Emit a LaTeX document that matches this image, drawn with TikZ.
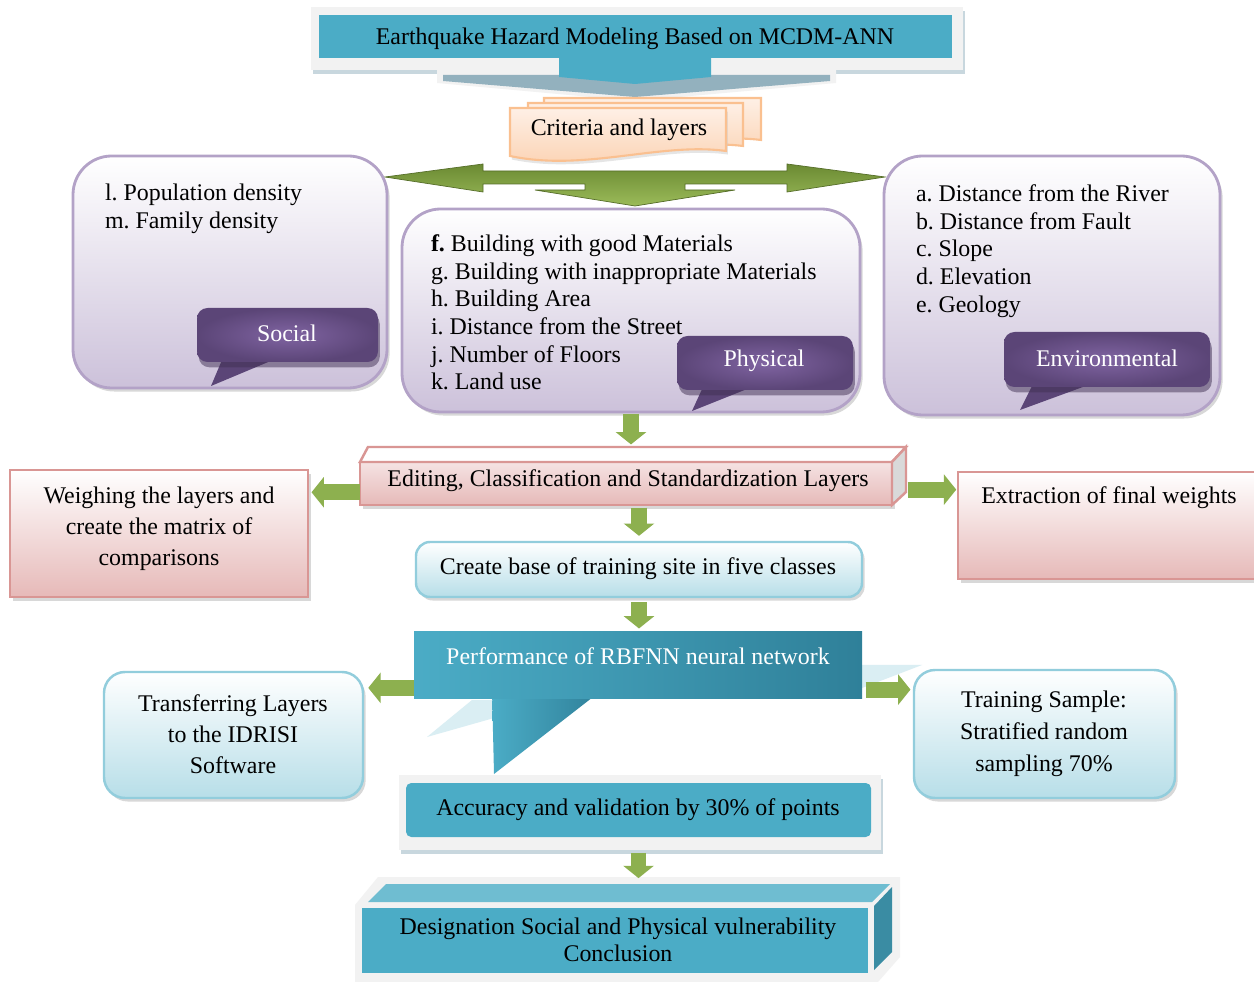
\documentclass[tikz,border=0pt]{standalone}
\usepackage{fontspec}
\setmainfont{Liberation Serif}
\usetikzlibrary{arrows.meta,fit,shadows,calc}
\definecolor{tealA}{HTML}{4BACC6}
\definecolor{tealD}{HTML}{2F8099}
\definecolor{tealM}{HTML}{3E97AE}
\definecolor{tealL}{HTML}{DAEEF3}
\definecolor{tealTop}{HTML}{6FBDD1}
\definecolor{tealSide}{HTML}{3A8CA3}
\definecolor{grayBlue}{HTML}{93B1BE}
\definecolor{frameL}{HTML}{F2F2F2}
\definecolor{blueB}{HTML}{92CDDC}
\definecolor{blueF}{HTML}{B7DEE8}
\definecolor{pinkB}{HTML}{D99694}
\definecolor{pinkF}{HTML}{E6B9B8}
\definecolor{purB}{HTML}{B3A2C7}
\definecolor{purF}{HTML}{CCC1DA}
\definecolor{purD}{HTML}{5B4577}
\definecolor{purM}{HTML}{8064A2}
\definecolor{orB}{HTML}{FAC090}
\definecolor{orT}{HTML}{FEF0E6}
\definecolor{orF}{HTML}{FBD0AE}
\definecolor{gD}{HTML}{6B8A33}
\definecolor{gM}{HTML}{8DB04F}
\definecolor{gL}{HTML}{9BBB59}
\frenchspacing
\begin{document}
\begin{tikzpicture}[x=0.02cm,y=-0.02cm,
  font=\fontsize{13.6}{15.7}\selectfont,
  box/.style={inner sep=0pt, outer sep=0pt},
  shad/.style={drop shadow={shadow xshift=1.5pt,shadow yshift=-2pt,fill=black!30}},
  purplebox/.style={box, draw=purB, line width=1.6pt, rounded corners=22pt,
     top color=white, bottom color=purF, shad},
  callout/.style={box, rounded corners=6pt, shading=radial, inner color=purM, outer color=purD,
     text=white, drop shadow={shadow xshift=1pt,shadow yshift=-3pt,fill=purD!70!black}},
  pinkbox/.style={box, draw=pinkB, line width=1.4pt, top color=white, bottom color=pinkF, shad},
  bluebox/.style={box, draw=blueB, line width=1.4pt, rounded corners=8pt, top color=white, bottom color=blueF, shad},
  docstyle/.style={draw=orB, line width=1.2pt, top color=orT, bottom color=orF},
  garrow/.style={draw=gM, line width=9pt, -{Triangle[length=7pt,width=17pt,fill=gM]}},
  listtext/.style={box, anchor=north west, align=left},
]
\useasboundingbox (0,0) rectangle (1254,982);
\fill[white] (0,0) rectangle (1254,982);

% ---------- Title banner ----------
\fill[frameL, drop shadow={shadow xshift=1pt,shadow yshift=-2.5pt,fill=grayBlue}] (311,7) rectangle (963,70);
\fill[frameL] (437,68) -- (836,68) -- (836,83) -- (635,101) -- (437,83) -- cycle;
\fill[grayBlue] (443,75) -- (830,75) -- (830,81) -- (635,97) -- (443,81) -- cycle;
\fill[tealA] (559,55) -- (711,55) -- (711,77) -- (635,84) -- (559,77) -- cycle;
\node[box, fit={(319,15) (952,58)}, fill=tealA] (title) {};
\node[box] (titletext) at (635,39) {Earthquake Hazard Modeling Based on MCDM-ANN};

% ---------- Criteria documents ----------
\path[docstyle] (544,98) -- (761,98) -- (761,140) .. controls (700,132) and (620,160) .. (544,146) -- cycle;
\path[docstyle] (528,103) -- (743,103) -- (743,146) .. controls (680,138) and (600,166) .. (528,152) -- cycle;
\path[docstyle, drop shadow={shadow xshift=1pt,shadow yshift=-2pt,fill=black!20}] (510,108) -- (726,108) -- (726,151) .. controls (660,142) and (585,172) .. (510,156) -- cycle;
\node[box, fit={(510,108) (726,150)}] (criteria) {};
\node[box] (criteriatext) at (619,130) {Criteria and layers};

% ---------- Green distribution arrow ----------
\shade[top color=gD, bottom color=gL, draw=gD!80!black, line width=0.4pt]
  (385,177) -- (483,164) -- (483,171) -- (787,171) -- (787,164) -- (885,177) -- (787,192)
  -- (787,184) -- (685,184) -- (685,190) -- (735,190) -- (635,206) -- (535,190) -- (585,190)
  -- (585,184) -- (483,184) -- (483,192) -- cycle;

% ---------- Social ----------
\node[purplebox, fit={(73,156) (387,388)}] (social) {};
\node[listtext] (socialtext) at (105,184) {l. Population density\\m. Family density};
\fill[purD] (222,360) -- (211,386) -- (273,360) -- cycle;
\node[callout, fit={(197,308) (378,362)}] (socialc) {};
\node[box, text=white] (socialct) at (287,333) {Social};

% ---------- Physical ----------
\node[purplebox, fit={(402,209) (860,412)}] (physical) {};
\node[listtext] (physicaltext) at (431,235) {\textbf{f.} Building with good Materials\\g. Building with inappropriate Materials\\h. Building Area\\i. Distance from the Street\\j. Number of Floors\\k. Land use};
\fill[purD] (703,387) -- (692,411) -- (752,387) -- cycle;
\node[callout, fit={(677,336) (853,390)}] (physicalc) {};
\node[box, text=white] (physicalct) at (764,361) {Physical};

% ---------- Environmental ----------
\node[purplebox, fit={(884,156) (1220,415)}] (environ) {};
\node[listtext] (environtext) at (916,185) {a. Distance from the River\\b. Distance from Fault\\c. Slope\\d. Elevation\\e. Geology};
\fill[purD] (1033,384) -- (1020,410) -- (1091,384) -- cycle;
\node[callout, fit={(1004,332) (1210,387)}] (environc) {};
\node[box, text=white] (environct) at (1107,358) {Environmental};

% ---------- Editing (3D box) ----------
\node[box, fit={(360,462) (892,505)}, draw=pinkB, line width=1.4pt, top color=pinkF!40, bottom color=pinkF, shad] (editing) {};
\filldraw[fill=white, draw=pinkB, line width=1.4pt] (editing.north west) -- (368,447) -- (906,447) -- (editing.north east) -- cycle;
\filldraw[fill=black!15, draw=pinkB, line width=1.4pt] (editing.north east) -- (906,447) -- (906,492) -- (editing.south east) -- cycle;
\node[box] (editingtext) at (628,481) {Editing, Classification and Standardization Layers};

% ---------- Weighing ----------
\node[pinkbox, fit={(10,470) (308,597)}] (weigh) {};
\node[box, align=center, font=\fontsize{13.6}{17.6}\selectfont] (weightext) at (159,529) {Weighing the layers and\\create the matrix of\\comparisons};

% ---------- Extraction ----------
\node[pinkbox, fit={(958,472) (1262,579)}] (extract) {};
\node[box] (extracttext) at (1109,498) {Extraction of final weights};

% ---------- Create base ----------
\node[bluebox, fit={(416,542) (862,597)}] (create) {};
\node[box] (createtext) at (638,569) {Create base of training site in five classes};

% ---------- Performance callout ----------
\fill[tealL] (862,665) -- (922,665) -- (862,688) -- cycle;
\fill[tealL] (427,737) -- (472,700) -- (494,700) -- (494,718) -- cycle;
\shade[left color=tealA, right color=tealD] (492,690) -- (494,774) -- (602,690) -- cycle;
\node[box, fit={(414,632) (862,698)}, left color=tealA, right color=tealD] (perf) {};
\node[box, text=white] (perftext) at (638,656) {Performance of RBFNN neural network};

% ---------- Transferring ----------
\node[bluebox, rounded corners=12pt, fit={(104,672) (363,798)}] (transfer) {};
\node[box, align=center, font=\fontsize{13.6}{17.6}\selectfont] (transfertext) at (233,734) {Transferring Layers\\to the IDRISI\\Software};

% ---------- Training ----------
\node[bluebox, rounded corners=12pt, fit={(914,670) (1175,798)}] (training) {};
\node[box, align=center, font=\fontsize{13.6}{18.2}\selectfont] (trainingtext) at (1044,734) {Training Sample:\\Stratified random\\sampling 70\%};

% ---------- Accuracy ----------
\fill[frameL, drop shadow={shadow xshift=1pt,shadow yshift=-2.5pt,fill=grayBlue}] (399,775) rectangle (881,850);
\node[box, fit={(406,783) (871,837)}, fill=tealA, rounded corners=3pt] (accuracy) {};
\node[box] (accuracytext) at (638,810) {Accuracy and validation by 30\% of points};

% ---------- Designation (3D box) ----------
\fill[frameL] (355,905) -- (378,877) -- (900,877) -- (900,957) -- (878,982) -- (355,982) -- cycle;
\node[box, fit={(362,908) (868,973)}, fill=tealA] (desig) {};
\fill[tealTop] (368,902) -- (386,884) -- (890,884) -- (872,902) -- cycle;
\fill[tealSide] (874,906) -- (892,887) -- (892,952) -- (874,970) -- cycle;
\node[box, align=center, font=\fontsize{13.6}{15.5}\selectfont] (desigtext) at (618,940) {Designation Social and Physical vulnerability\\Conclusion};

% ---------- Green connector arrows ----------
\draw[garrow, shorten <=1pt, shorten >=10pt] (physical.south) -- (physical.south |- editing.north);
\draw[garrow, shorten <=1.5pt, shorten >=3.5pt] (create.north |- editing.south) -- (create.north);
\draw[garrow, shorten <=3pt, shorten >=2pt] (create.south) -- (create.south |- perf.north);
\draw[garrow, shorten <=9pt, shorten >=17pt] (accuracy.south) -- (accuracy.south |- desig.north);
\draw[garrow, shorten >=2pt] ([yshift=-5pt]editing.west) -- ([yshift=-5pt]editing.west -| weigh.east);
\draw[garrow, shorten <=9pt, shorten >=1pt] ([yshift=-3.5pt]editing.east) -- ([yshift=-3.5pt]editing.east -| extract.west);
\draw[garrow, shorten >=3pt] ([yshift=-13pt]perf.west) -- ([yshift=-13pt]perf.west -| transfer.east);
\draw[garrow, shorten <=2pt, shorten >=2pt] ([yshift=-14pt]perf.east) -- ([yshift=-14pt]perf.east -| training.west);
\end{tikzpicture}
\end{document}
